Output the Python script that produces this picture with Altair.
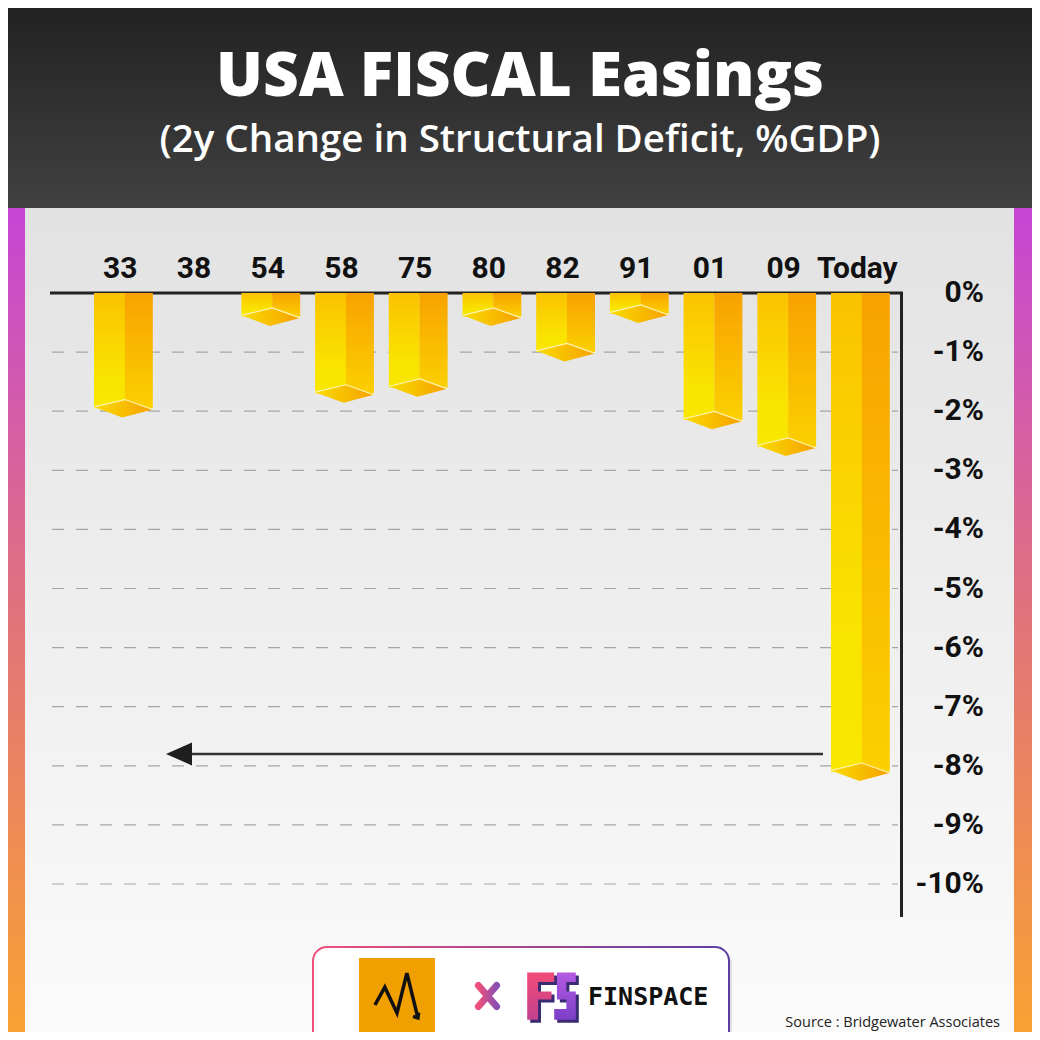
import altair as alt
import pandas as pd

# ---------------- data ----------------
categories = ["33", "38", "54", "58", "75", "80", "82", "91", "01", "09", "Today"]
values = [-1.95, 0.0, -0.4, -1.7, -1.6, -0.4, -1.0, -0.35, -2.15, -2.6, -8.1]
tick_values = [0, -1, -2, -3, -4, -5, -6, -7, -8, -9, -10]
tick_labels = ["0%", "-1%", "-2%", "-3%", "-4%", "-5%", "-6%", "-7%", "-8%", "-9%", "-10%"]
arrow_level = [-7.8]
title_text = "USA FISCAL Easings"
subtitle_text = "(2y Change in Structural Deficit, %GDP)"
source_text = "Source : Bridgewater Associates"

W = H = 1024

bars = pd.DataFrame({"cat": categories, "v": values})
ticks = pd.DataFrame({"t": tick_values, "lab": tick_labels})
arrow = pd.DataFrame({"lvl": arrow_level})
one = pd.DataFrame({"a": [0]})

xs = alt.Scale(domain=categories, range=[78.45, 889.15], paddingInner=0, paddingOuter=0)
ys = alt.Scale(domain=[-10, 0], range=[876, 285])


def grad(stops, vertical=True):
    d = {"gradient": "linear", "stops": [{"offset": o, "color": c} for o, c in stops]}
    if vertical:
        d.update(x1=0, y1=0, x2=0, y2=1)
    else:
        d.update(x1=0, y1=0, x2=1, y2=0)
    return d


def box(x, x2, y, y2, **mk):
    return alt.Chart(one).mark_rect(**mk).encode(
        x=alt.value(x), x2=alt.value(x2), y=alt.value(y), y2=alt.value(y2))


def label(txt, x, y, **mk):
    return alt.Chart(one).mark_text(text=txt, **mk).encode(x=alt.value(x), y=alt.value(y))


def sym(path, x, y, size, **mk):
    return alt.Chart(one).mark_point(shape=path, size=size, opacity=1, **mk).encode(
        x=alt.value(x), y=alt.value(y))


X = alt.X("cat:N", scale=xs, axis=None)

# ---------------- background ----------------
bg = box(0, W, 0, H, fill="#ffffff")
header = box(0, W, 0, 200, fill=grad([(0, "#222222"), (1, "#414141")]))
side_grad = grad([(0, "#c646d6"), (0.5, "#e2737a"), (1, "#f9a233")])
left_side = box(0, 17, 200, H, fill=side_grad)
right_side = box(1006, W, 200, H, fill=side_grad)
panel = box(17, 1006, 200, H, fill=grad([(0, "#e2e2e2"), (1, "#fbfbfb")]))

# ---------------- grid & axes ----------------
gridlines = alt.Chart(ticks).transform_filter("datum.t < 0").mark_rule(
    stroke="#a6a6a6", strokeWidth=1.2, strokeDash=[12, 12]).encode(
    x=alt.value(44), x2=alt.value(890), y=alt.Y("t:Q", scale=ys, axis=None))

top_axis = alt.Chart(ticks).transform_filter("datum.t == 0").mark_rule(
    stroke="#222222", strokeWidth=3).encode(
    x=alt.value(42), x2=alt.value(895), y=alt.Y("t:Q", scale=ys, axis=None))

right_axis = alt.Chart(ticks).transform_filter("datum.t == 0").mark_rule(
    stroke="#222222", strokeWidth=3).encode(
    x=alt.value(893.5), y=alt.Y("t:Q", scale=ys, axis=None), y2=alt.value(909))

# ---------------- 3D bars ----------------
left_face = alt.Chart(bars).mark_bar(
    width=31, xOffset=-13.8,
    fill=grad([(0, "#fbc200"), (0.7, "#f9e300"), (1, "#f9e800")])).encode(
    x=X, y=alt.Y("v:Q", scale=ys, axis=None, stack=None), y2=alt.datum(0))

right_face = alt.Chart(bars).mark_bar(
    width=28, xOffset=15.5,
    fill=grad([(0, "#f8a200"), (1, "#fbd000")])).encode(
    x=X, y=alt.Y("v:Q", scale=ys, axis=None, stack=None), y2=alt.datum(0))

DIAMOND = "M-1,-0.044 L0.058,-0.297 L1.003,0.044 L-0.034,0.317 Z"
EDGE = "M-1,-0.044 L0.058,-0.297 L1.003,0.044"

bottoms = alt.Chart(bars).transform_filter("datum.v < 0").mark_point(
    shape=DIAMOND, size=3434, filled=True, opacity=1, strokeWidth=0,
    fill=grad([(0, "#f9dc00"), (1, "#f6a000")], vertical=False)).encode(
    x=X, y=alt.Y("v:Q", scale=ys, axis=None))

edges = alt.Chart(bars).transform_filter("datum.v < 0").mark_point(
    shape=EDGE, size=3434, filled=False, opacity=1, stroke="#fff4b0", strokeWidth=1.2).encode(
    x=X, y=alt.Y("v:Q", scale=ys, axis=None))

# ---------------- arrow ----------------
arrow_line = alt.Chart(arrow).mark_rule(stroke="#333333", strokeWidth=2.5).encode(
    x=alt.value(182), x2=alt.value(815), y=alt.Y("lvl:Q", scale=ys, axis=None))
arrow_head = alt.Chart(arrow).mark_point(
    shape="M-1,0 L1,-0.88 L1,0.88 Z", size=676, filled=True, opacity=1,
    fill="#1e1e1e", strokeWidth=0).encode(
    x=alt.value(171), y=alt.Y("lvl:Q", scale=ys, axis=None))

# ---------------- labels ----------------
cat_labels = alt.Chart(bars).mark_text(
    font="Roboto", fontSize=30, fontWeight="bold", color="#111111", dx=-3,
    baseline="alphabetic").encode(x=X, y=alt.value(270), text="cat:N")

y_labels = alt.Chart(ticks).mark_text(
    font="Roboto", fontSize=30, fontWeight="bold", color="#111111",
    align="right", baseline="middle").encode(
    x=alt.value(976), y=alt.Y("t:Q", scale=ys, axis=None), text="lab:N")

title = label(title_text, 512, 88, font="Open Sans", fontSize=62, fontWeight=800,
              color="#ffffff", align="center", baseline="alphabetic")
subtitle = label(subtitle_text, 512, 144, font="Open Sans", fontSize=38.5, fontWeight=600,
                 color="#ffffff", align="center", baseline="alphabetic")

# ---------------- footer / logos ----------------
shadow = box(308, 724, 942, 1060, fill="#000000", opacity=0.10, cornerRadius=14)
logo_box = box(305, 721, 939, 1060, fill="#ffffff", cornerRadius=14, strokeWidth=2,
               stroke=grad([(0, "#ef4f7a"), (1, "#5b3fa5")], vertical=False))
orange = box(351, 427, 950, 1025, fill="#f0a000")
zigzag = sym("M-0.58,0.25 L-0.32,-0.22 L0,0.46 L0.26,-0.59 L0.55,0.59 M0.42,0.55 L0.55,0.59 L0.57,0.45",
             389, 987.5, 5776, filled=False, stroke="#111111", strokeWidth=3.5)
cross = sym("M-0.65,-0.75 L0.65,0.75 M0.65,-0.75 L-0.65,0.75", 479.5, 988, 784,
            filled=False, strokeWidth=7, strokeCap="round",
            stroke=grad([(0, "#f04f7c"), (1, "#8a4fb0")], vertical=False))
F_PATH = ("M-0.9,-0.85 L0.1,-0.85 L0.1,-0.5 L-0.5,-0.5 L-0.5,-0.15 L0,-0.15 "
          "L0,0.15 L-0.5,0.15 L-0.5,0.9 L-0.9,0.9 Z")
S_PATH = ("M0.2,-0.85 L0.9,-0.85 L0.9,-0.5 L0.55,-0.5 L0.55,-0.15 L0.9,-0.15 "
          "L0.9,0.9 L0.1,0.9 L0.1,0.5 L0.55,0.5 L0.55,0.15 L0.2,0.15 Z")
f_shadow = sym(F_PATH, 546.5, 990.5, 2916, filled=True, fill="#3a2a72", strokeWidth=0)
s_shadow = sym(S_PATH, 546.5, 990.5, 2916, filled=True, fill="#3a2a72", strokeWidth=0)
f_logo = sym(F_PATH, 543.5, 987.5, 2916, filled=True, strokeWidth=0,
             fill=grad([(0, "#f24c78"), (1, "#c2408f")]))
s_logo = sym(S_PATH, 543.5, 987.5, 2916, filled=True, strokeWidth=0,
             fill=grad([(0, "#b45ae2"), (1, "#7d3fc8")]))
finspace = label("FINSPACE", 580, 997, font="DejaVu Sans Mono", fontSize=25, fontWeight="bold",
                 color="#111111", align="left", baseline="alphabetic")
source = label(source_text, 992, 1019, font="Open Sans", fontSize=14.5, color="#222222",
               align="right", baseline="alphabetic")

chart = alt.layer(
    bg, header, left_side, right_side, panel,
    gridlines, top_axis, right_axis,
    left_face, right_face, bottoms, edges,
    arrow_line, arrow_head,
    cat_labels, y_labels, title, subtitle,
    shadow, logo_box, orange, zigzag, cross, f_shadow, s_shadow, f_logo, s_logo,
    finspace, source,
).properties(
    width=W, height=H, autosize=alt.AutoSizeParams(type="none"), padding=0
).configure_view(stroke=None).configure(background="#ffffff")

chart.save("out.html", embed_options={"renderer": "svg", "actions": False})
